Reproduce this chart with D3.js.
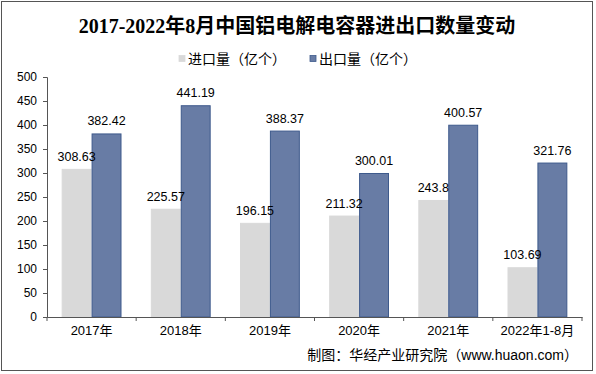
<!DOCTYPE html>
<html>
<head>
<meta charset="utf-8">
<script src="https://cdn.jsdelivr.net/npm/d3@7"></script>
<style>
  html, body { margin: 0; padding: 0; background: #fff; }
  svg { display: block; }
  text { font-family: 'Liberation Sans', Arial, 'Noto Sans CJK SC', sans-serif; fill: #000; }
</style>
</head>
<body>
<div id="chart"></div>
<script>
const categories = ['2017年', '2018年', '2019年', '2020年', '2021年', '2022年1-8月']
const imports = [308.63, 225.57, 196.15, 211.32, 243.8, 103.69]
const exports = [382.42, 441.19, 388.37, 300.01, 400.57, 321.76]
const importLabels = ['308.63', '225.57', '196.15', '211.32', '243.8', '103.69']
const exportLabels = ['382.42', '441.19', '388.37', '300.01', '400.57', '321.76']
const yTicks = [0, 50, 100, 150, 200, 250, 300, 350, 400, 450, 500]
const seriesNames = ['进口量（亿个）', '出口量（亿个）']
const colors = ['#d9d9d9', '#687ca5']
const strokes = ['#d9d9d9', '#3e5a8c']

const width = 596
const height = 374
const margin = { top: 77, right: 14, bottom: 57, left: 47 }

const svg = d3.select('#chart')
  .append('svg')
  .attr('width', width)
  .attr('height', height)

// outer frame
svg.append('rect')
  .attr('x', 1.5).attr('y', 1.5)
  .attr('width', 591).attr('height', 369)
  .attr('fill', 'none')
  .attr('stroke', '#555')

svg.append('text')
  .attr('x', 297)
  .attr('y', 33)
  .attr('text-anchor', 'middle')
  .style('font-family', "'Liberation Serif', 'Noto Sans CJK SC', serif")
  .style('font-weight', 'bold')
  .style('font-size', '20px')
  .text('2017-2022年8月中国铝电解电容器进出口数量变动')

const x = d3.scaleBand()
  .domain(categories)
  .range([margin.left, 582])

const x1 = d3.scaleBand()
  .domain([0, 1])
  .range([0, x.bandwidth()])
  .paddingOuter(0.49)
  .paddingInner(0)

const y = d3.scaleLinear()
  .domain([0, 500])
  .range([317, 77])

// legend
const legend = svg.append('g').attr('class', 'legend')
const legendX = [179, 310]
seriesNames.forEach((name, i) => {
  legend.append('rect')
    .attr('x', legendX[i]).attr('y', 55.5)
    .attr('width', 6).attr('height', 6)
    .attr('fill', colors[i])
    .attr('stroke', strokes[i])
    .attr('stroke-width', 0.8)
  legend.append('text')
    .attr('x', legendX[i] + 9)
    .attr('y', 64)
    .style('font-family', "'Noto Sans CJK SC', sans-serif")
    .style('font-size', '14px')
    .text(name)
})

// y axis
const yAxis = svg.append('g')
  .attr('transform', `translate(${margin.left},0)`)
  .call(d3.axisLeft(y).tickValues(yTicks).tickSize(4).tickPadding(6))
yAxis.select('.domain').attr('stroke', '#555')
yAxis.selectAll('.tick line').attr('stroke', '#555')
yAxis.selectAll('.tick text').style('font-size', '12px').attr('fill', '#000')

// bars
const series = [imports, exports]
const labels = [importLabels, exportLabels]
series.forEach((values, s) => {
  svg.append('g')
    .attr('class', 'bars-' + s)
    .selectAll('rect')
    .data(values)
    .enter()
    .append('rect')
    .attr('x', (d, i) => x(categories[i]) + x1(s) + 0.5)
    .attr('y', d => y(d) + 0.5)
    .attr('width', x1.bandwidth() - 1)
    .attr('height', d => y(0) - y(d) - 0.5)
    .attr('fill', colors[s])
    .attr('stroke', strokes[s])
    .attr('stroke-width', 1)
})

// x axis
const xAxis = svg.append('g')
  .attr('transform', `translate(0,${y(0)})`)
  .call(d3.axisBottom(x).tickSize(0).tickPadding(9))
xAxis.select('.domain').attr('stroke', '#555')
xAxis.selectAll('.tick text')
  .style('font-size', '13px')
  .style('font-family', "'Liberation Sans', 'Noto Sans CJK SC', sans-serif")
  .attr('fill', '#000')
xAxis.selectAll('.sep')
  .data(d3.range(categories.length + 1))
  .enter()
  .append('line')
  .attr('class', 'sep')
  .attr('x1', i => margin.left + i * x.bandwidth())
  .attr('x2', i => margin.left + i * x.bandwidth())
  .attr('y1', 0).attr('y2', 4)
  .attr('stroke', '#555')

// value labels on top of every bar
series.forEach((values, s) => {
  svg.append('g')
    .attr('class', 'labels-' + s)
    .selectAll('text')
    .data(values)
    .enter()
    .append('text')
    .attr('x', (d, i) => x(categories[i]) + x1(s) + x1.bandwidth() / 2)
    .attr('y', d => y(d) - 8)
    .attr('text-anchor', 'middle')
    .style('font-size', '12.5px')
    .text((d, i) => labels[s][i])
})

svg.append('text')
  .attr('x', 578)
  .attr('y', 360)
  .attr('text-anchor', 'end')
  .style('font-family', "'Liberation Sans', 'Noto Sans CJK SC', sans-serif")
  .style('font-size', '14px')
  .text('制图：华经产业研究院（www.huaon.com）')
</script>
</body>
</html>
